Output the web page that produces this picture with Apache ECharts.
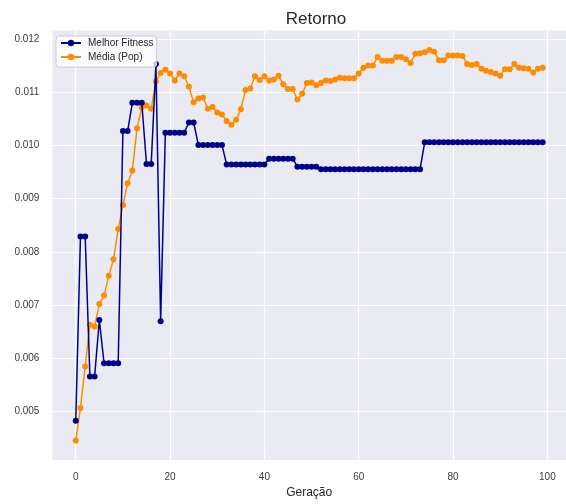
<!DOCTYPE html>
<html>
<head>
<meta charset="utf-8">
<script src="https://cdn.jsdelivr.net/npm/echarts@6/dist/echarts.min.js"></script>
<style>
  html, body { margin: 0; padding: 0; background: #ffffff; }
  #chart { width: 566px; height: 504px; }
</style>
</head>
<body>
<div id="chart"></div>
<script>
// Generations 0..99
const generations = Array.from({ length: 100 }, (_, i) => i);

// Best individual's return per generation
const melhorFitness = [
  0.00483, 0.00829, 0.00829, 0.00566, 0.00566, 0.00672, 0.00591, 0.00591, 0.00591, 0.00591,
  0.01027, 0.01027, 0.01080, 0.01080, 0.01080, 0.00965, 0.00965, 0.01153, 0.00670, 0.01024,
  0.01024, 0.01024, 0.01024, 0.01024, 0.01043, 0.01043, 0.01001, 0.01001, 0.01001, 0.01001,
  0.01001, 0.01001, 0.00964, 0.00964, 0.00964, 0.00964, 0.00964, 0.00964, 0.00964, 0.00964,
  0.00964, 0.00975, 0.00975, 0.00975, 0.00975, 0.00975, 0.00975, 0.00960, 0.00960, 0.00960,
  0.00960, 0.00960, 0.00955, 0.00955, 0.00955, 0.00955, 0.00955, 0.00955, 0.00955, 0.00955,
  0.00955, 0.00955, 0.00955, 0.00955, 0.00955, 0.00955, 0.00955, 0.00955, 0.00955, 0.00955,
  0.00955, 0.00955, 0.00955, 0.00955, 0.01006, 0.01006, 0.01006, 0.01006, 0.01006, 0.01006,
  0.01006, 0.01006, 0.01006, 0.01006, 0.01006, 0.01006, 0.01006, 0.01006, 0.01006, 0.01006,
  0.01006, 0.01006, 0.01006, 0.01006, 0.01006, 0.01006, 0.01006, 0.01006, 0.01006, 0.01006
];

// Population mean return per generation
const mediaPop = [
  0.00446, 0.00507, 0.00585, 0.00663, 0.00660, 0.00702, 0.00718, 0.00755, 0.00786, 0.00843,
  0.00888, 0.00929, 0.00953, 0.01032, 0.01071, 0.01075, 0.01069, 0.01120, 0.01136, 0.01142,
  0.01135, 0.01122, 0.01135, 0.01130, 0.01110, 0.01081, 0.01088, 0.01090, 0.01069, 0.01072,
  0.01062, 0.01058, 0.01046, 0.01039, 0.01048, 0.01068, 0.01104, 0.01107, 0.01130, 0.01123,
  0.01130, 0.01122, 0.01124, 0.01131, 0.01115, 0.01106, 0.01106, 0.01086, 0.01097, 0.01117,
  0.01118, 0.01113, 0.01117, 0.01122, 0.01121, 0.01124, 0.01127, 0.01126, 0.01126, 0.01126,
  0.01135, 0.01146, 0.01150, 0.01150, 0.01166, 0.01159, 0.01159, 0.01159, 0.01166, 0.01166,
  0.01162, 0.01155, 0.01172, 0.01173, 0.01175, 0.01179, 0.01176, 0.01160, 0.01160, 0.01169,
  0.01169, 0.01169, 0.01168, 0.01153, 0.01151, 0.01153, 0.01144, 0.01140, 0.01138, 0.01135,
  0.01131, 0.01143, 0.01143, 0.01153, 0.01146, 0.01145, 0.01144, 0.01137, 0.01144, 0.01146
];

// Axis ticks
const xTicks = [0, 20, 40, 60, 80, 100];
const yTicks = [0.005, 0.006, 0.007, 0.008, 0.009, 0.010, 0.011, 0.012];

const seriesNames = ['Melhor Fitness', 'Média (Pop)'];
const textColor = '#3a3a3a';
const fontFamily = '"Liberation Sans", Arial, sans-serif';

const chart = echarts.init(document.getElementById('chart'), null, { renderer: 'canvas' });

chart.setOption({
  animation: false,
  backgroundColor: '#ffffff',
  textStyle: { fontFamily: fontFamily },
  title: {
    text: 'Retorno',
    left: 311,
    textAlign: 'center',
    top: 6,
    textStyle: { fontSize: 17, fontWeight: 'normal', color: '#262626', fontFamily: fontFamily }
  },
  legend: {
    data: seriesNames,
    orient: 'vertical',
    left: 56,
    top: 36,
    itemGap: 4,
    itemWidth: 20,
    itemHeight: 8,
    padding: [2, 3, 5, 4],
    backgroundColor: 'rgba(255,255,255,0.8)',
    borderColor: '#cccccc',
    borderWidth: 1,
    borderRadius: 3,
    textStyle: { fontSize: 10, color: '#262626', fontFamily: fontFamily, padding: [0, 0, 0, 2] }
  },
  grid: {
    left: 52.4,
    top: 30.4,
    width: 518.4,
    height: 432.6,
    show: true,
    backgroundColor: '#EAEAF2',
    borderWidth: 0
  },
  xAxis: {
    type: 'value',
    min: -4.95,
    max: 103.95,
    name: 'Geração',
    nameLocation: 'middle',
    nameGap: 25,
    nameTextStyle: { fontSize: 12, color: '#262626', fontFamily: fontFamily },
    axisLine: { show: false },
    axisTick: { show: false, customValues: xTicks },
    axisLabel: { customValues: xTicks, fontSize: 10, color: textColor, margin: 12 },
    splitLine: { show: true, customValues: xTicks, lineStyle: { color: '#ffffff', width: 1.2 } }
  },
  yAxis: {
    type: 'value',
    min: 0.00409,
    max: 0.01216,
    axisLine: { show: false },
    axisTick: { show: false, customValues: yTicks },
    axisLabel: {
      customValues: yTicks,
      fontSize: 10,
      color: textColor,
      margin: 13,
      formatter: v => v.toFixed(3)
    },
    splitLine: { show: true, customValues: yTicks, lineStyle: { color: '#ffffff', width: 1.2 } }
  },
  series: [
    {
      name: seriesNames[0],
      type: 'line',
      data: generations.map((g, i) => [g, melhorFitness[i]]),
      symbol: 'circle',
      symbolSize: 6,
      color: '#00008B',
      lineStyle: { width: 1.5, color: '#00008B' },
      itemStyle: { color: '#00008B' },
      z: 3
    },
    {
      name: seriesNames[1],
      type: 'line',
      data: generations.map((g, i) => [g, mediaPop[i]]),
      symbol: 'circle',
      symbolSize: 6,
      color: '#FF8C00',
      lineStyle: { width: 1.5, color: '#FF8C00' },
      itemStyle: { color: '#FF8C00' },
      z: 2
    }
  ]
});
</script>
</body>
</html>
